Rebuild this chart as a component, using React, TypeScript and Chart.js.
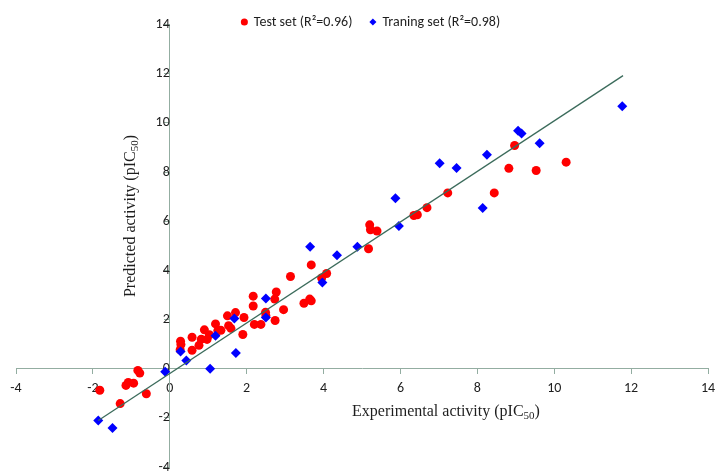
import React, { useEffect, useRef } from "react";
import { Chart, registerables } from "chart.js";

Chart.register(...registerables);

// ---- Data ----
const seriesLabels = ["Test set (R\u00B2=0.96)", "Traning set (R\u00B2=0.98)"];

const testX = [
  -1.82, -1.29, -1.14, -1.08, -0.94, -0.83, -0.78, -0.61,
  0.28, 0.29, 0.27, 0.58, 0.58, 0.76, 0.82, 0.9, 0.97, 1.03,
  1.19, 1.25, 1.33, 1.5, 1.53, 1.59, 1.71, 1.9, 1.93,
  2.17, 2.17, 2.2, 2.37, 2.73, 2.77, 2.49, 2.5, 2.74, 2.96,
  3.14, 3.49, 3.64, 3.68, 3.68, 3.95, 4.08,
  5.17, 5.2, 5.22, 5.39, 6.35, 6.44, 6.69, 7.23,
  8.44, 8.82, 8.97, 9.53, 10.31,
];
const testY = [
  -0.88, -1.42, -0.68, -0.56, -0.59, -0.07, -0.18, -1.02,
  1.12, 0.98, 0.77, 1.28, 0.75, 0.95, 1.2, 1.58, 1.19, 1.38,
  1.82, 1.55, 1.56, 2.15, 1.75, 1.64, 2.28, 1.39, 2.08,
  2.95, 2.55, 1.8, 1.8, 2.83, 3.12, 2.29, 2.15, 1.96, 2.4,
  3.75, 2.66, 2.83, 2.76, 4.22, 3.69, 3.87,
  4.88, 5.85, 5.65, 5.6, 6.23, 6.26, 6.55, 7.15,
  7.15, 8.15, 9.08, 8.06, 8.4,
];

const trainX = [
  -1.86, -1.49, -0.12, 0.28, 0.43, 1.05, 1.19, 1.68, 1.72, 2.5, 2.5,
  3.65, 3.97, 4.35, 4.88, 5.87, 5.96, 7.02, 7.46, 8.14, 8.25,
  9.06, 9.15, 9.62, 11.77,
];
const trainY = [
  -2.11, -2.41, -0.13, 0.7, 0.33, 0.0, 1.34, 2.04, 0.64, 2.85, 2.08,
  4.96, 3.51, 4.61, 4.96, 6.93, 5.8, 8.36, 8.16, 6.54, 8.7,
  9.68, 9.57, 9.17, 10.67,
];

// regression line end points
const fitX = [-1.86, 11.79];
const fitY = [-2.11, 11.92];

// axis range / tick step
const axisMin = -4;
const axisMax = 14;
const axisStep = 2;

const xTitleParts = ["Experimental activity (pIC", "50", ")"];
const yTitleParts = ["Predicted activity (pIC", "50", ")"];

// ---- Styles ----
const sansFont = '"Carlito", "Lato", "Open Sans", sans-serif';
const serifFont = '"Liberation Serif", "Times New Roman", serif';
const axisColor = "#93ada1";
const textColor = "#1e1e1e";
const fitColor = "#3b6b5b";

function drawRichTitle(
  ctx: CanvasRenderingContext2D,
  parts: string[],
  cx: number,
  baseline: number,
  rotation: number
) {
  const mainFont = `16px ${serifFont}`;
  const subFont = `11px ${serifFont}`;
  ctx.save();
  ctx.translate(cx, baseline);
  ctx.rotate(rotation);
  ctx.textAlign = "left";
  ctx.textBaseline = "alphabetic";
  ctx.fillStyle = textColor;
  ctx.font = mainFont;
  const w0 = ctx.measureText(parts[0]).width;
  const w2 = ctx.measureText(parts[2]).width;
  ctx.font = subFont;
  const w1 = ctx.measureText(parts[1]).width;
  let x = -(w0 + w1 + w2) / 2;
  ctx.font = mainFont;
  ctx.fillText(parts[0], x, 0);
  x += w0;
  ctx.font = subFont;
  ctx.fillText(parts[1], x, 3);
  x += w1;
  ctx.font = mainFont;
  ctx.fillText(parts[2], x, 0);
  ctx.restore();
}

const axisTitlePlugin = {
  id: "axisTitles",
  afterLayout(chart: any) {
    // the reference legend sits a little right of the plot centre and
    // overlaps the top of the plot area
    const lg = chart.legend;
    if (lg) {
      lg.left += 9;
      lg.right += 9;
      lg.bottom += 12;
      lg.height += 12;
    }
  },
  afterDraw(chart: any) {
    const ctx = chart.ctx as CanvasRenderingContext2D;
    drawRichTitle(ctx, xTitleParts, 446, 416, 0);
    drawRichTitle(ctx, yTitleParts, 135, 216, -Math.PI / 2);
  },
};

export default function App() {
  const canvasRef = useRef<HTMLCanvasElement | null>(null);

  useEffect(() => {
    const canvas = canvasRef.current;
    if (!canvas) return;

    const testData = testX.map((x, i) => ({ x, y: testY[i] }));
    const trainData = trainX.map((x, i) => ({ x, y: trainY[i] }));
    const fitData = fitX.map((x, i) => ({ x, y: fitY[i] }));

    const chart = new Chart(canvas, {
      type: "scatter",
      data: {
        datasets: [
          {
            label: seriesLabels[0],
            data: testData,
            pointStyle: "circle",
            pointRadius: 4.5,
            pointHoverRadius: 4.5,
            backgroundColor: "#ff0000",
            borderColor: "#ff0000",
            borderWidth: 0,
            order: 2,
          },
          {
            label: seriesLabels[1],
            data: trainData,
            pointStyle: "rectRot",
            pointRadius: 5,
            pointHoverRadius: 5,
            backgroundColor: "#0000ff",
            borderColor: "#0000ff",
            borderWidth: 0,
            order: 1,
          },
          {
            type: "line",
            label: "fit",
            data: fitData,
            showLine: true,
            borderColor: fitColor,
            borderWidth: 1.3,
            pointRadius: 0,
            fill: false,
            order: 0,
          } as any,
        ],
      },
      options: {
        responsive: false,
        animation: false,
        devicePixelRatio: 1,
        layout: {
          padding: { top: -3, left: 16, right: 7, bottom: 2.5 },
        },
        plugins: {
          tooltip: { enabled: false },
          legend: {
            display: true,
            position: "top",
            align: "center",
            maxHeight: 27.5,
            labels: {
              usePointStyle: true,
              boxWidth: 5,
              boxHeight: 5,
              padding: 18,
              color: textColor,
              font: { family: sansFont, size: 14 },
              filter: (item: any) => item.datasetIndex < 2,
              sort: (a: any, b: any) => a.datasetIndex - b.datasetIndex,
            },
          },
        },
        scales: {
          x: {
            type: "linear",
            min: axisMin,
            max: axisMax,
            position: { y: 0 } as any,
            ticks: {
              stepSize: axisStep,
              maxRotation: 0,
              autoSkip: false,
              color: textColor,
              padding: 6,
              font: { family: sansFont, size: 14 },
            },
            grid: {
              drawOnChartArea: false,
              drawTicks: true,
              tickLength: 5,
              color: axisColor,
            },
            border: { display: true, color: axisColor, width: 1 },
            afterFit: (s: any) => {
              s.paddingLeft = 0;
              s.paddingRight = 0;
            },
          },
          y: {
            type: "linear",
            min: axisMin,
            max: axisMax,
            position: { x: 0 } as any,
            ticks: {
              stepSize: axisStep,
              autoSkip: false,
              color: textColor,
              padding: 7,
              font: { family: sansFont, size: 14 },
            },
            grid: {
              drawOnChartArea: false,
              drawTicks: true,
              tickLength: 5,
              color: axisColor,
            },
            border: { display: true, color: axisColor, width: 1 },
            afterFit: (s: any) => {
              s.paddingTop = 0;
              s.paddingBottom = 0;
            },
          },
        },
      },
      plugins: [axisTitlePlugin],
    } as any);

    return () => {
      chart.destroy();
    };
  }, []);

  return (
    <div
      style={{
        position: "fixed",
        left: 0,
        top: 0,
        width: 715,
        height: 472,
        background: "#ffffff",
      }}
    >
      <canvas ref={canvasRef} width={715} height={472} style={{ display: "block" }} />
    </div>
  );
}
